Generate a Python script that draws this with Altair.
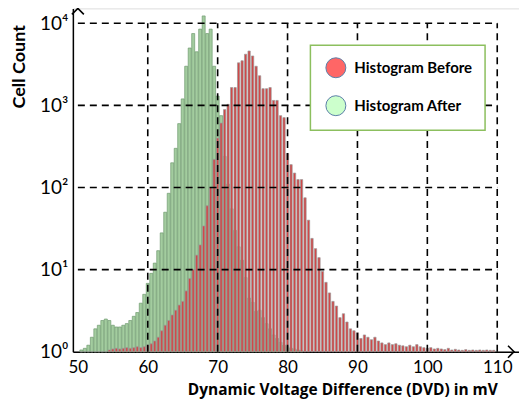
import altair as alt
import pandas as pd

# ---- data ----
BIN_START = 50.5   # mV, centre of first bin
BIN_WIDTH = 0.5    # mV

after_counts = [
    1.05, 1.1, 1.2, 1.5, 1.9, 2.1, 2.4, 2.5, 2.4, 2.1,          # 50.5 - 55.0
    2.0, 2.0, 2.1, 2.2, 2.4, 2.7, 3.0, 3.9, 5.0, 6.8,           # 55.5 - 60.0
    9.0, 12, 17, 28, 50, 85, 200, 300, 600, 1200,                # 60.5 - 65.0
    3000, 5000, 7500, 4500, 8500, 12300, 7500, 8500, 3000, 1300, # 65.5 - 70.0
    750, 240, 110, 55, 30, 19, 13, 8, 4.5, 4.0,                  # 70.5 - 75.0
    3.1, 3.2, 2.6, 2.2, 1.9, 1.6, 1.45, 1.3, 1.2, 1.15,          # 75.5 - 80.0
    1.1, 1.08, 1.05, 1.03,                                       # 80.5 - 82.0
]

before_counts = [
    1.0, 1.0, 1.0, 1.0, 1.0, 1.0, 1.0, 1.0, 1.05, 1.08,          # 50.5 - 55.0
    1.1, 1.08, 1.1, 1.12, 1.1, 1.12, 1.15, 1.12, 1.15, 1.2,      # 55.5 - 60.0
    1.25, 1.35, 1.5, 1.8, 2.1, 2.4, 2.8, 3.2, 3.7, 4.1,          # 60.5 - 65.0
    5.5, 7.8, 10, 15, 20, 34, 60, 100, 220, 400,                 # 65.5 - 70.0
    610, 890, 1030, 1650, 1650, 3300, 3500, 4200, 4600, 4000,    # 70.5 - 75.0
    3000, 2300, 1600, 1600, 1650, 1150, 1150, 750, 710, 260,     # 75.5 - 80.0
    190, 150, 125, 125, 75, 40, 24, 18, 14, 9.5,                 # 80.5 - 85.0
    7, 5.2, 4.1, 3.6, 2.6, 2.9, 2.3, 1.9, 1.8, 1.7,              # 85.5 - 90.0
    1.45, 1.6, 1.5, 1.4, 1.5, 1.35, 1.28, 1.22, 1.28, 1.22,      # 90.5 - 95.0
    1.25, 1.2, 1.18, 1.15, 1.2, 1.15, 1.22, 1.15, 1.12, 1.1,     # 95.5 - 100.0
    1.12, 1.08, 1.1, 1.08, 1.06, 1.1, 1.05, 1.07, 1.05, 1.04,    # 100.5 - 105.0
    1.06, 1.04, 1.05, 1.04, 1.05, 1.04, 1.05, 1.04, 1.04,        # 105.5 - 109.5
]

x_ticks = [50, 60, 70, 80, 90, 100, 110]
y_ticks = [1, 10, 100, 1000, 10000]
grid_x = [60, 70, 80, 90, 100, 110]
grid_y = [10, 100, 1000, 10000]
series_names = ["Histogram Before", "Histogram After"]
legend_colors = ["#ff6666", "#ccffcc"]

X_MAX = 112.4
Y_MAX = 15200

# ---- tables ----
after_df = pd.DataFrame({
    "mv": [BIN_START + i * BIN_WIDTH for i in range(len(after_counts))],
    "count": after_counts,
})
before_df = pd.DataFrame({
    "mv": [BIN_START + i * BIN_WIDTH for i in range(len(before_counts))],
    "count": before_counts,
})
gx_df = pd.DataFrame({"gx": grid_x})
gy_df = pd.DataFrame({"gy": grid_y})
legend_df = pd.DataFrame({"series": series_names})

FONT = "Lato"
TITLE_FONT = "Open Sans"

xscale = alt.Scale(domain=[50, X_MAX], nice=False)
yscale = alt.Scale(type="log", domain=[1, Y_MAX], nice=False)

label_expr = ("datum.value == 1 ? '10⁰' : datum.value == 10 ? '10¹' : "
              "datum.value == 100 ? '10²' : datum.value == 1000 ? '10³' : '10⁴'")

x_enc = alt.X(
    "mv:Q", scale=xscale,
    axis=alt.Axis(
        values=x_ticks, title="Dynamic Voltage Difference (DVD) in mV",
        grid=False, ticks=False, domain=True, domainColor="black", domainWidth=1.5,
        labelFont=FONT, labelFontSize=17, labelColor="black", labelPadding=8,
        titleFont=TITLE_FONT, titleFontSize=15.5, titleFontWeight="bold", titleColor="black",
        titleX=270, titleY=38, titleAlign="center", titleBaseline="middle",
        labelFlush=False,
    ),
)
y_enc = alt.Y(
    "count:Q", scale=yscale,
    axis=alt.Axis(
        values=y_ticks, labelExpr=label_expr, title="Cell Count",
        grid=False, ticks=False, domain=True, domainColor="black", domainWidth=1.5,
        labelFont=FONT, labelFontSize=19, labelColor="black", labelPadding=5,
        labelBaseline="middle",
        titleFont=FONT, titleFontSize=18, titleFontWeight="bold", titleColor="black",
        titleX=-53, titleY=58, titleAlign="center", titleBaseline="middle", titleAngle=-90,
        labelFlush=False,
    ),
)

after_bars = alt.Chart(after_df).mark_bar(
    width=3.0, fill="#a3cc9f", stroke="#6f9a6f", strokeWidth=0.7
).encode(x=x_enc, y=y_enc, y2=alt.datum(1))

before_bars = alt.Chart(before_df).mark_bar(
    width=2.3, fill="#d04848", stroke="#9a9a9a", strokeWidth=0.7
).encode(x="mv:Q", y="count:Q", y2=alt.datum(1))

vgrid = alt.Chart(gx_df).mark_rule(
    color="black", strokeDash=[7, 5], strokeWidth=1.6
).encode(x="gx:Q", y=alt.datum(1), y2=alt.datum(10000))

hgrid = alt.Chart(gy_df).mark_rule(
    color="black", strokeDash=[7, 5], strokeWidth=1.6
).encode(y="gy:Q", x=alt.datum(50), x2=alt.datum(110))

right_arrow = alt.Chart(legend_df.head(1)).mark_point(
    shape="M-1,-1L0,0L-1,1", filled=False, color="black", strokeWidth=1.6, size=144, opacity=1
).encode(x=alt.datum(X_MAX), y=alt.datum(1))

top_arrow = alt.Chart(legend_df.head(1)).mark_point(
    shape="M-1,1L0,0L1,1", filled=False, color="black", strokeWidth=1.6, size=144, opacity=1
).encode(x=alt.datum(50), y=alt.datum(Y_MAX))

legend_layer = alt.Chart(legend_df).mark_point(
    filled=True, opacity=0, size=1
).encode(
    x=alt.datum(50), y=alt.datum(1),
    fill=alt.Fill(
        "series:N",
        scale=alt.Scale(domain=series_names, range=legend_colors),
        legend=alt.Legend(
            title=None, orient="none", legendX=238, legendY=37,
            symbolType="circle", symbolSize=400, symbolOpacity=1,
            symbolStrokeColor="#5b7fa8", symbolStrokeWidth=1,
            labelFont=FONT, labelFontSize=15, labelFontWeight="bold", labelColor="black",
            labelOffset=8, rowPadding=13, padding=12, symbolOffset=3,
            strokeColor="#8cbf5e", fillColor="white",
            labelLimit=300, zindex=1,
        ),
    ),
)

chart = alt.layer(
    after_bars, before_bars, vgrid, hgrid, right_arrow, top_arrow, legend_layer
).properties(
    width=447, height=344,
    autosize=alt.AutoSizeParams(type="none"),
    padding={"left": 65, "top": 0, "right": 0, "bottom": 49},
).configure_view(stroke=None).configure(background="white").configure_legend(strokeWidth=1.5)

chart.save("out.html", embed_options={"renderer": "svg", "actions": False})
